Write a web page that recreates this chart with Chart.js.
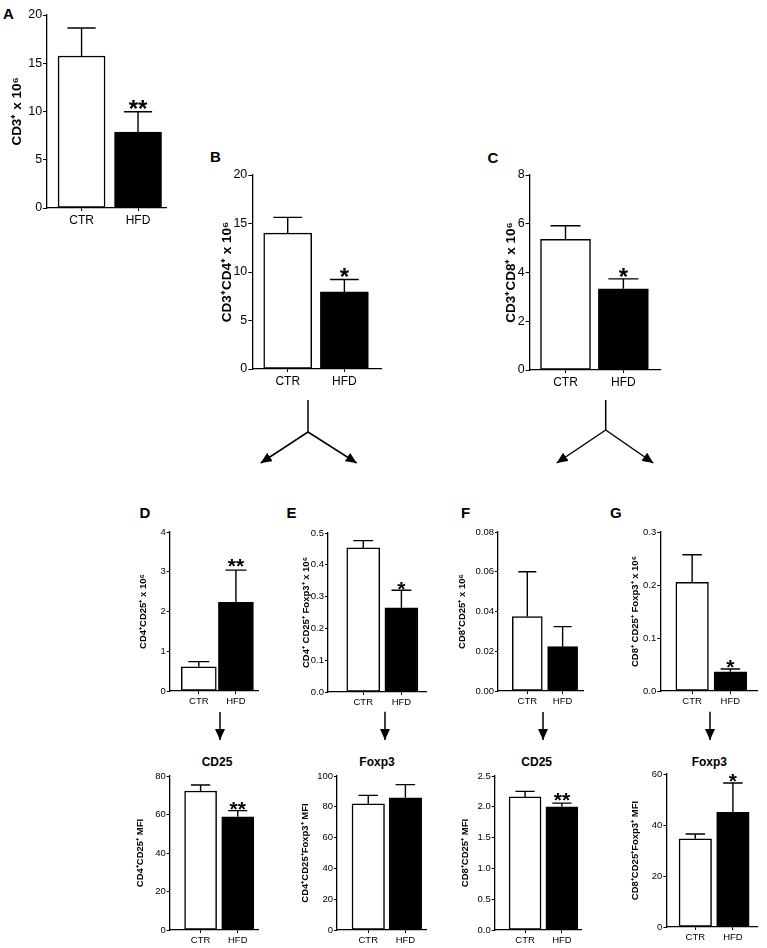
<!DOCTYPE html>
<html><head><meta charset="utf-8">
<script src="https://cdn.jsdelivr.net/npm/chart.js@4.4.0/dist/chart.umd.min.js"></script>
<style>
html,body{margin:0;padding:0;background:#fff;width:767px;height:948px;overflow:hidden}
#wrap{position:relative;width:767px;height:948px;background:#fff}
canvas{position:absolute}
svg{position:absolute;left:0;top:0}
</style></head>
<body><div id="wrap"><svg id="ann" width="767" height="948" xmlns="http://www.w3.org/2000/svg"></svg></div>
<script>
// ---------- DATA ----------
const categories = ['CTR', 'HFD'];

const meanA = [15.75, 7.87],  semA = [2.9, 2.11],    sigA = ['', '**'];
const meanB = [14.0, 7.95],   semB = [1.63, 1.28],   sigB = ['', '*'];
const meanC = [5.36, 3.33],   semC = [0.56, 0.41],   sigC = ['', '*'];
const meanD = [0.61, 2.23],   semD = [0.13, 0.81],   sigD = ['', '**'];
const meanE = [0.453, 0.265], semE = [0.023, 0.055], sigE = ['', '*'];
const meanF = [0.0375, 0.0223], semF = [0.0225, 0.0101], sigF = ['', ''];
const meanG = [0.205, 0.0363], semG = [0.052, 0.0051], sigG = ['', '*'];
const meanH = [72.2, 58.85],  semH = [3.1, 3.15],    sigH = ['', '**'];
const meanI = [82.0, 85.9],   semI = [5.4, 8.5],     sigI = ['', ''];
const meanJ = [2.16, 2.0],    semJ = [0.09, 0.06],   sigJ = ['', '**'];
const meanK = [34.6, 45.0],   semK = [1.9, 11.5],    sigK = ['', '*'];

const yTitles = {
  A: 'CD3\u207A x 10\u2076',
  B: 'CD3\u207ACD4\u207A x 10\u2076',
  C: 'CD3\u207ACD8\u207A x 10\u2076',
  D: 'CD4\u207ACD25\u207A x 10\u2076',
  E: 'CD4\u207A CD25\u207A Foxp3\u207A x 10\u2076',
  F: 'CD8\u207ACD25\u207A x 10\u2076',
  G: 'CD8\u207A CD25\u207A Foxp3\u207A x 10\u2076',
  H: 'CD4\u207ACD25\u207A MFI',
  I: 'CD4\u207ACD25\u207AFoxp3\u207A MFI',
  J: 'CD8\u207ACD25\u207A MFI',
  K: 'CD8\u207ACD25\u207AFoxp3\u207A MFI'
};
const yMax  = {A:20, B:20, C:8, D:4, E:0.5, F:0.08, G:0.3, H:80, I:100, J:2.5, K:60};
const yStep = {A:5, B:5, C:2, D:1, E:0.1, F:0.02, G:0.1, H:20, I:20, J:0.5, K:20};
const yDec  = {A:0, B:0, C:0, D:0, E:1, F:2, G:1, H:0, I:0, J:1, K:0};

// ---------- LAYOUT ----------
const FONT = "'Liberation Sans', Arial, Helvetica, sans-serif";
Chart.defaults.font.family = FONT;
Chart.defaults.color = '#000';

const panels = [
  {k:'A', mean:meanA, sem:semA, sig:sigA, axisX:47,    top:15,    bottom:208,   right:166,   c1:81.5,  c2:138,   bw:47,   titleX:17,    titleFs:13.5, tickFs:12.5, xFs:12,  astFs:24, astGap:8,  tickLen:4},
  {k:'B', mean:meanB, sem:semB, sig:sigB, axisX:252.7, top:175,   bottom:368.7, right:381,   c1:288,   c2:344.5, bw:48,   titleX:227.5, titleFs:13.5, tickFs:12.5, xFs:12,  astFs:24, astGap:8,  tickLen:4},
  {k:'C', mean:meanC, sem:semC, sig:sigC, axisX:530,   top:175,   bottom:369.7, right:660,   c1:565.8, c2:623.5, bw:50,   titleX:511.5, titleFs:13.5, tickFs:12.5, xFs:12,  astFs:24, astGap:8,  tickLen:4},
  {k:'D', mean:meanD, sem:semD, sig:sigD, axisX:170,   top:531.7, bottom:691,   right:258,   c1:199,   c2:236,   bw:35,   titleX:144,   titleFs:9.5,  tickFs:9.5, xFs:9.5, astFs:21, astGap:9,  tickLen:3},
  {k:'E', mean:meanE, sem:semE, sig:sigE, axisX:328.3, top:532.7, bottom:692,   right:426.7, c1:363.7, c2:402,   bw:33,   titleX:307,   titleFs:9.5,  tickFs:9.5, xFs:9.5, astFs:21, astGap:6,  tickLen:3},
  {k:'F', mean:meanF, sem:semF, sig:sigF, axisX:498.3, top:532.3, bottom:691,   right:583,   c1:527.5, c2:562.7, bw:30,   titleX:463,   titleFs:9.5,  tickFs:9.5, xFs:9.5, astFs:21, astGap:7,  tickLen:3},
  {k:'G', mean:meanG, sem:semG, sig:sigG, axisX:660,   top:531.7, bottom:691,   right:757,   c1:692,   c2:730.3, bw:32.6, titleX:635.5, titleFs:9.5,  tickFs:9.5, xFs:9.5, astFs:21, astGap:7,  tickLen:3},
  {k:'H', mean:meanH, sem:semH, sig:sigH, axisX:170,   top:775.7, bottom:929.3, right:258,   c1:200.8, c2:237.8, bw:32,   titleX:141,   titleFs:9.5,  tickFs:9.5, xFs:9.5, astFs:21, astGap:7,  tickLen:3},
  {k:'I', mean:meanI, sem:semI, sig:sigI, axisX:337.3, top:775.7, bottom:929.3, right:426.7, c1:368.7, c2:406,   bw:32.5, titleX:306,   titleFs:9.5,  tickFs:9.5, xFs:9.5, astFs:21, astGap:7,  tickLen:3},
  {k:'J', mean:meanJ, sem:semJ, sig:sigJ, axisX:495,   top:775.7, bottom:930,   right:581.7, c1:525.5, c2:562.5, bw:32,   titleX:466,   titleFs:9.5,  tickFs:9.5, xFs:9.5, astFs:21, astGap:8,  tickLen:3},
  {k:'K', mean:meanK, sem:semK, sig:sigK, axisX:666.7, top:774.3, bottom:927.7, right:757,   c1:695.5, c2:733,   bw:32.5, titleX:636,   titleFs:9.5,  tickFs:9.5, xFs:9.5, astFs:21, astGap:7,  tickLen:3}
];

const errPlugin = {
  id: 'errbars',
  afterDatasetsDraw(chart, args, opts) {
    const {ctx} = chart;
    const x = chart.scales.x, y = chart.scales.y;
    ctx.save();
    ctx.strokeStyle = '#000';
    ctx.fillStyle = '#000';
    ctx.lineWidth = 1.4;
    opts.mean.forEach((m, i) => {
      const px = x.getPixelForValue(i + 1);
      const yb = y.getPixelForValue(m);
      const yt = y.getPixelForValue(m + opts.sem[i]);
      const hw = opts.cap / 2;
      ctx.beginPath();
      ctx.moveTo(px, yb); ctx.lineTo(px, yt);
      ctx.moveTo(px - hw, yt); ctx.lineTo(px + hw, yt);
      ctx.stroke();
      if (opts.sig[i]) {
        ctx.font = 'bold ' + opts.astFs + 'px ' + FONT;
        ctx.textAlign = 'center';
        ctx.textBaseline = 'alphabetic';
        ctx.fillText(opts.sig[i], px, yt - opts.astGap + 0.575 * opts.astFs);
      }
    });
    ctx.restore();
  }
};

const wrap = document.getElementById('wrap');
const PAD_TOP = 10, PAD_R = 3, XAXIS_H = 30;

panels.forEach(p => {
  const lh = p.titleFs * 1.2;
  const left = p.titleX - lh / 2;
  const cw = Math.round((p.right - left) + PAD_R);
  const ch = Math.round(PAD_TOP + (p.bottom - p.top) + XAXIS_H);
  const cv = document.createElement('canvas');
  cv.width = cw; cv.height = ch;
  cv.style.left = left + 'px';
  cv.style.top = (p.top - PAD_TOP) + 'px';
  cv.style.width = cw + 'px'; cv.style.height = ch + 'px';
  wrap.appendChild(cv);

  const unit = p.c2 - p.c1;
  const xmin = 1 - (p.c1 - p.axisX) / unit;
  const xmax = 2 + (p.right - p.c2) / unit;
  const yAxisW = p.axisX - left;

  new Chart(cv, {
    type: 'bar',
    data: {
      datasets: [{
        data: p.mean.map((v, i) => ({x: i + 1, y: v})),
        backgroundColor: ['#ffffff', '#000000'],
        borderColor: '#000000',
        borderWidth: 1.5,
        barThickness: p.bw,
        borderSkipped: false
      }]
    },
    options: {
      responsive: false,
      animation: false,
      devicePixelRatio: 1,
      layout: {padding: {left: 0, top: PAD_TOP, right: PAD_R, bottom: 0}},
      plugins: {
        legend: {display: false},
        tooltip: {enabled: false},
        errbars: {mean: p.mean, sem: p.sem, sig: p.sig, cap: p.bw * 0.6, astFs: p.astFs, astGap: p.astGap}
      },
      scales: {
        x: {
          type: 'linear', min: xmin, max: xmax, offset: false, bounds: 'ticks',
          afterDataLimits: s => { s.min = xmin; s.max = xmax; },
          afterBuildTicks: s => { s.ticks = [{value: 1}, {value: 2}]; s.min = xmin; s.max = xmax; },
          afterFit: s => { s.height = XAXIS_H; },
          ticks: {
            callback: v => categories[Math.round(v) - 1] || '',
            font: {size: p.xFs}, color: '#000', padding: 2,
            maxRotation: 0, autoSkip: false
          },
          grid: {offset: false, drawOnChartArea: false, drawTicks: true, tickLength: 3, color: '#000', lineWidth: 1},
          border: {display: true, color: '#000', width: 1.3}
        },
        y: {
          min: 0, max: yMax[p.k],
          afterFit: s => { s.width = yAxisW; },
          ticks: {
            stepSize: yStep[p.k],
            callback: v => Number(v).toFixed(yDec[p.k]),
            font: {size: p.tickFs}, color: '#000', padding: 1
          },
          grid: {drawOnChartArea: false, drawTicks: true, tickLength: p.tickLen, color: '#000', lineWidth: 1},
          border: {display: true, color: '#000', width: 1.3},
          title: {display: true, text: yTitles[p.k], font: {size: p.titleFs, weight: 'bold'}, color: '#000', padding: 0}
        }
      }
    },
    plugins: [errPlugin]
  });
});

// ---------- ANNOTATIONS (panel letters, titles, arrows) ----------
const svg = document.getElementById('ann');
const NS = 'http://www.w3.org/2000/svg';
function el(tag, attrs, text) {
  const e = document.createElementNS(NS, tag);
  for (const a in attrs) e.setAttribute(a, attrs[a]);
  if (text !== undefined) e.textContent = text;
  svg.appendChild(e);
  return e;
}
const defs = el('defs', {});
const marker = document.createElementNS(NS, 'marker');
marker.setAttribute('id', 'ah');
marker.setAttribute('markerUnits', 'userSpaceOnUse');
marker.setAttribute('markerWidth', '12');
marker.setAttribute('markerHeight', '10');
marker.setAttribute('refX', '11');
marker.setAttribute('refY', '5');
marker.setAttribute('orient', 'auto');
const mp = document.createElementNS(NS, 'path');
mp.setAttribute('d', 'M0,0 L11,5 L0,10 Z');
mp.setAttribute('fill', '#000');
marker.appendChild(mp);
defs.appendChild(marker);

const letters = [['A', 3, 19], ['B', 210, 162.4], ['C', 487.5, 162.7], ['D', 139.5, 517.7], ['E', 286.5, 517.7], ['F', 461, 517.7], ['G', 610, 517.7]];
letters.forEach(([t, x, y]) => el('text', {x, y, 'font-family': FONT, 'font-weight': 'bold', 'font-size': 15, fill: '#000'}, t));

const topTitles = [['CD25', 217, 765.5], ['Foxp3', 377, 765.5], ['CD25', 536.7, 765.5], ['Foxp3', 709.3, 765.5]];
topTitles.forEach(([t, x, y]) => el('text', {x, y, 'font-family': FONT, 'font-weight': 'bold', 'font-size': 12, fill: '#000', 'text-anchor': 'middle'}, t));

const lineStyle = {stroke: '#000', 'stroke-width': 1.5, fill: 'none'};
function line(x1, y1, x2, y2, arrow) {
  const a = Object.assign({x1, y1, x2, y2}, lineStyle);
  if (arrow) a['marker-end'] = 'url(#ah)';
  el('line', a);
}
[[308, 400, 432, 260.7, 356.7, 463], [605.7, 400, 430, 556.7, 653.3, 463]].forEach(([x, y0, yj, xl, xr, yt]) => {
  line(x, y0, x, yj, false);
  line(x, yj, xl, yt, true);
  line(x, yj, xr, yt, true);
});
[[220, 712, 740], [385, 711.7, 740], [543, 712, 740], [710, 711.7, 740]].forEach(([x, y0, y1]) => line(x, y0, x, y1, true));
</script>
</body></html>
